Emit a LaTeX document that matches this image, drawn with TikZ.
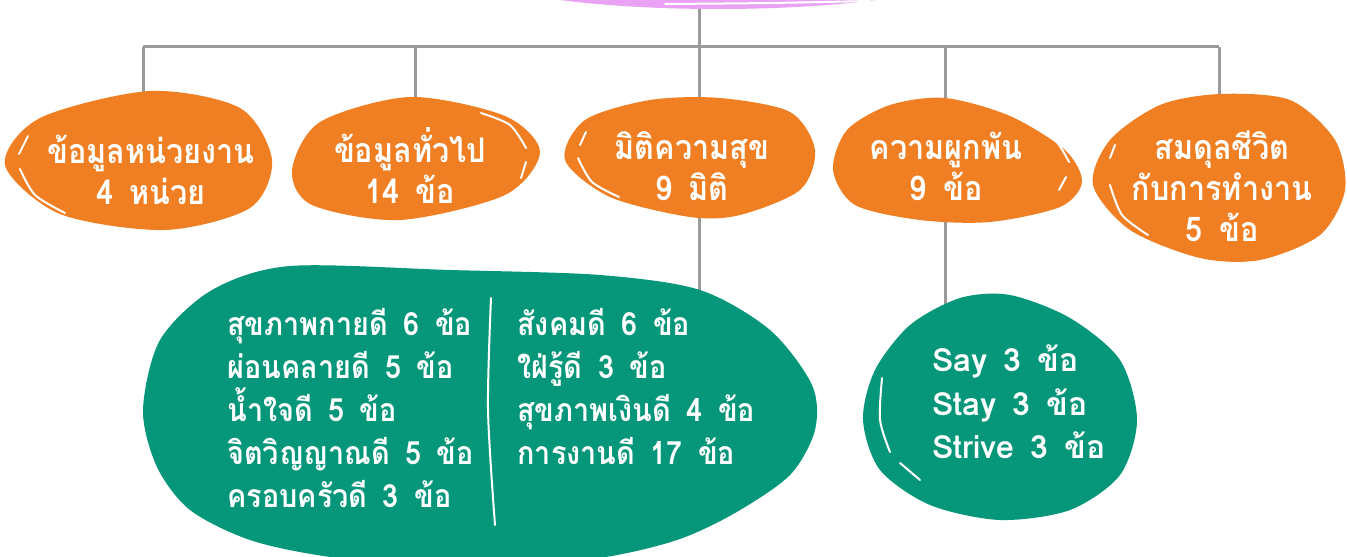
\documentclass[tikz,border=0pt]{standalone}
\usepackage{fontspec}
\setmainfont[Script=Thai,WordSpace=1.5]{Loma}
\newfontfamily\thaicond[Script=Thai,FakeStretch=0.9,WordSpace=1.6]{Loma}
\definecolor{blobpink}{HTML}{E9A2F4}
\definecolor{bloborange}{HTML}{EF7F22}
\definecolor{blobgreen}{HTML}{06977B}
\definecolor{linegray}{HTML}{9A9A9A}
\pgfdeclarelayer{bg}
\pgfdeclarelayer{blob}
\pgfsetlayers{bg,blob,main}
\tikzset{
  conn/.style={draw=linegray, line width=1.5pt},
  hilite/.style={draw=white, line width=1pt, line cap=round},
  otxt/.style={text=white, align=center, inner sep=0pt, font=\thaicond\bfseries\fontsize{17}{20.5}\selectfont},
  gtxt/.style={text=white, align=left, inner sep=0pt, anchor=west, font=\thaicond\bfseries\fontsize{16}{21.5}\selectfont},
  stxt/.style={text=white, align=left, inner sep=0pt, anchor=west, font=\bfseries\fontsize{16}{21.8}\selectfont},
}
\begin{document}
\begin{tikzpicture}[x=0.5pt,y=-0.5pt]
\useasboundingbox (0,0) rectangle (1347,556);
\clip (0,0) rectangle (1347,556);

% text nodes
\node[otxt] (t1) at (151,170) {ข้อมูลหน่วยงาน\\4 หน่วย};
\node[otxt] (t2) at (410,166) {ข้อมูลทั่วไป\\14 ข้อ};
\node[otxt] (t3) at (692,166) {มิติความสุข\\9 มิติ};
\node[otxt] (t4) at (946,166) {ความผูกพัน\\9 ข้อ};
\node[otxt] (t5) at (1222,186) {สมดุลชีวิต\\กับการทำงาน\\5 ข้อ};
\node[gtxt] (gl) at (227,408) {สุขภาพกายดี 6 ข้อ\\ผ่อนคลายดี 5 ข้อ\\น้ำใจดี 5 ข้อ\\จิตวิญญาณดี 5 ข้อ\\ครอบครัวดี 3 ข้อ};
\node[gtxt] (gr) at (517,387) {สังคมดี 6 ข้อ\\ใฝ่รู้ดี 3 ข้อ\\สุขภาพเงินดี 4 ข้อ\\การงานดี 17 ข้อ};
\node[stxt] (gs) at (932,402) {Say 3 ข้อ\\Stay 3 ข้อ\\Strive 3 ข้อ};

% coordinates
\coordinate (root) at (699,0);
\coordinate (hub) at (699,47);
\coordinate (b1) at (143,47);
\coordinate (b2) at (415,47);
\coordinate (b4) at (945,47);
\coordinate (b5) at (1219,47);
\coordinate (g1top) at (699,320);
\coordinate (g2top) at (945,330);

\begin{pgfonlayer}{bg}
  \draw[conn] (root) -- (hub);
  \draw[conn] (b1) -- (b5);
  \draw[conn] (b1) -- (b1 |- t1);
  \draw[conn] (b2) -- (b2 |- t2);
  \draw[conn] (hub) -- (hub |- t3);
  \draw[conn] (b4) -- (b4 |- t4);
  \draw[conn] (b5) -- (b5 |- t5);
  \draw[conn] (hub |- t3) -- (g1top);
  \draw[conn] (b4 |- t4) -- (g2top);
\end{pgfonlayer}

\begin{pgfonlayer}{blob}
  % pink root blob
  \fill[blobpink] (718,-31) ellipse [x radius=250, y radius=40];
  \draw[hilite] plot[smooth] coordinates {(665,4) (770,3) (870,1)};
  % orange blobs
  \fill[bloborange] plot[smooth cycle] coordinates {(5,165) (40,118) (150,91) (240,108) (272,160) (250,208) (165,230) (60,214)};
  \fill[bloborange] plot[smooth cycle] coordinates {(292,170) (320,122) (410,97) (505,116) (540,152) (505,195) (400,220) (312,205)};
  \fill[bloborange] plot[smooth cycle] coordinates {(565,160) (585,120) (650,100) (720,98) (790,112) (815,150) (800,190) (740,215) (690,217) (610,197)};
  \fill[bloborange] plot[smooth cycle] coordinates {(833,170) (847,130) (890,105) (945,98) (1010,116) (1065,150) (1082,182) (1060,207) (990,222) (920,220) (855,205)};
  \fill[bloborange] plot[smooth cycle] coordinates {(1093,185) (1110,140) (1160,105) (1220,94) (1290,100) (1335,140) (1345,190) (1320,235) (1260,260) (1200,258) (1130,230)};
  % green blobs
  \fill[blobgreen] plot[smooth cycle] coordinates {(143,410) (160,340) (212,290) (290,266) (450,270) (600,275) (700,290) (770,330) (812,385) (815,430) (790,475) (735,513) (677,540) (600,558) (470,572) (330,557) (250,540) (190,510) (157,467)};
  \fill[blobgreen] plot[smooth cycle] coordinates {(863,420) (875,370) (910,325) (960,298) (1010,295) (1070,318) (1120,360) (1137,420) (1120,475) (1070,510) (1000,520) (930,505) (880,470)};
  % highlights
  \draw[hilite] (19,154) -- (28,136);
  \draw[hilite] plot[smooth] coordinates {(20,169) (35,195) (65,213)};
  \draw[hilite] plot[smooth] coordinates {(481,113) (510,125) (526,148)};
  \draw[hilite] (526,162) -- (521,178);
  \draw[hilite] (586,132) -- (580,145);
  \draw[hilite] plot[smooth] coordinates {(578,158) (592,182) (619,197)};
  \draw[hilite] plot[smooth] coordinates {(1028,122) (1055,140) (1069,162)};
  \draw[hilite] (1066,177) -- (1059,190);
  \draw[hilite] (1115,145) -- (1110,158);
  \draw[hilite] plot[smooth] coordinates {(1110,185) (1122,215) (1148,235)};
  \draw[hilite] plot[smooth] coordinates {(882,378) (880,420) (890,452)};
  \draw[hilite] (900,463) -- (920,480);
  \draw[hilite] plot[smooth] coordinates {(491,298) (488,410) (495,525)};
\end{pgfonlayer}
\end{tikzpicture}
\end{document}
